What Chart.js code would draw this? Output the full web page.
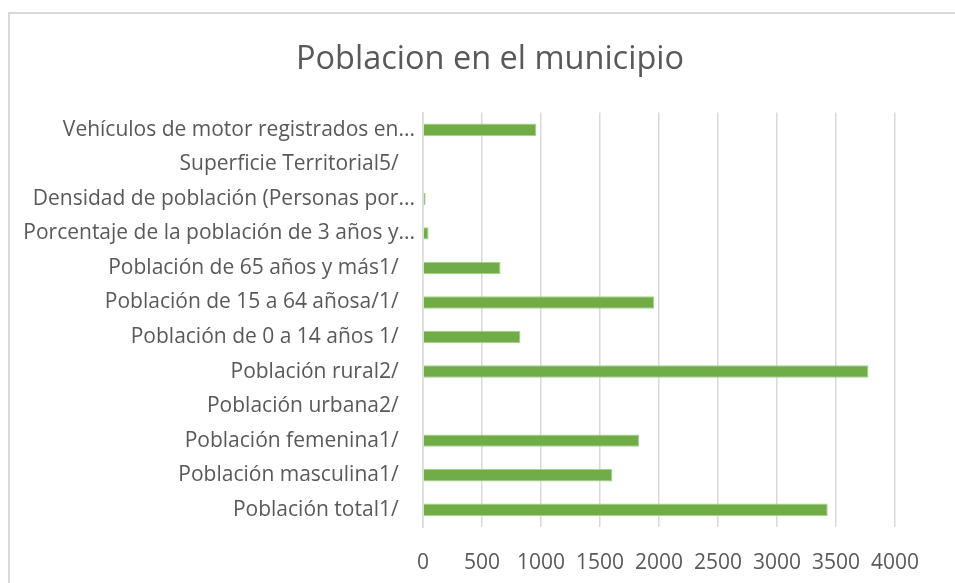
<!DOCTYPE html>
<html>
<head>
<meta charset="utf-8">
<script src="https://cdn.jsdelivr.net/npm/chart.js@4"></script>
<style>
  body { margin: 0; background: #fff; overflow: hidden; }
  #frame { position: absolute; left: 8px; top: 12px; width: 1000px; height: 620px;
           border-left: 2px solid #d9d9d9; border-top: 2px solid #d9d9d9; }
  #wrap { position: absolute; left: 0; top: 0; width: 980px; height: 583px; }
</style>
</head>
<body>
<div id="frame"></div>
<div id="wrap"><canvas id="poblacionChart"></canvas></div>
<script>
// labels as shown in the picture (top to bottom)
const categories = [
  'Vehículos de motor registrados en...',
  'Superficie Territorial5/   ',
  'Densidad de población (Personas por...',
  'Porcentaje de la población de 3 años y...',
  'Población de 65 años y más1/   ',
  'Población de 15 a 64 añosa/1/   ',
  'Población de 0 a 14 años 1/   ',
  'Población rural2/   ',
  'Población urbana2/   ',
  'Población femenina1/   ',
  'Población masculina1/   ',
  'Población total1/   '
]
const values = [961, 0, 22, 47, 657, 1958, 826, 3775, 0, 1833, 1605, 3430]
const xTicks = [0, 500, 1000, 1500, 2000, 2500, 3000, 3500, 4000]

const ctx = document.getElementById('poblacionChart')

new Chart(ctx, {
  type: 'bar',
  data: {
    labels: categories,
    datasets: [{
      label: 'Poblacion',
      data: values,
      backgroundColor: '#70ad47',
      borderColor: '#a9d18e',
      borderWidth: 1,
      barPercentage: 0.36,
      categoryPercentage: 1
    }]
  },
  options: {
    indexAxis: 'y',
    responsive: true,
    maintainAspectRatio: false,
    animation: false,
    layout: { padding: 0 },
    plugins: {
      legend: { display: false },
      tooltip: { enabled: false },
      title: {
        display: true,
        text: 'Poblacion en el municipio',
        color: '#595959',
        font: { family: 'Open Sans', size: 32.5, weight: 'normal' },
        padding: { top: 40, bottom: 33.5 }
      }
    },
    scales: {
      x: {
        min: 0,
        max: 4000,
        afterBuildTicks: (axis) => { axis.ticks = xTicks.map((v) => ({ value: v })) },
        grid: { color: '#d9d9d9', lineWidth: 1.5, drawTicks: false },
        border: { display: false },
        ticks: {
          color: '#595959',
          padding: 23,
          font: { family: 'Open Sans', size: 21 },
          callback: (v) => String(v)
        },
        afterFit: (axis) => { axis.height = 56 }
      },
      y: {
        grid: { display: false },
        border: { color: '#d9d9d9', width: 1.5 },
        ticks: {
          color: '#595959',
          padding: 0,
          autoSkip: false,
          font: { family: 'Open Sans', size: 21 }
        },
        afterFit: (axis) => { axis.width = 423 }
      },
      // empty space on the right of the plot
      yRight: {
        position: 'right',
        type: 'category',
        grid: { display: false },
        border: { display: false },
        ticks: { display: false },
        afterFit: (axis) => { axis.width = 85 }
      }
    }
  }
})
</script>
</body>
</html>
